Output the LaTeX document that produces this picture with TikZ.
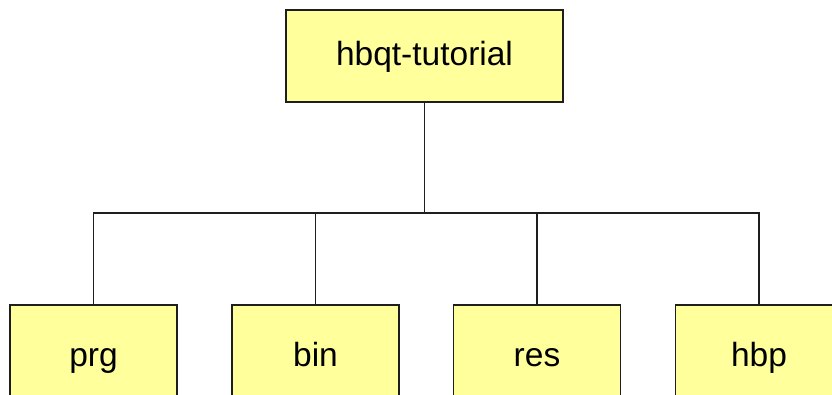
\documentclass[tikz,border=0pt]{standalone}
\usepackage{fontspec}
\setmainfont{Liberation Sans}
\definecolor{boxfill}{RGB}{255,255,155}
\definecolor{edge}{RGB}{30,30,30}
\begin{document}
\begin{tikzpicture}[x=1pt,y=-1pt,
  box/.style={draw=edge,line width=1.4pt,fill=boxfill,inner sep=0pt,
    text height=24pt,text depth=6pt,
    font=\fontsize{33.5}{38}\selectfont},
  topbox/.style={box,minimum width=277pt,minimum height=92pt},
  leafbox/.style={box,minimum width=167pt,minimum height=104pt},
  conn/.style={draw=edge,line width=1.5pt}]
\useasboundingbox (0,0) rectangle (832,394);
\clip (0,0) rectangle (832,394);
\fill[white] (0,0) rectangle (832,394);
\node[topbox] (root) at (424.5,56) {hbqt-tutorial};
\node[leafbox] (prg) at (93.5,357) {prg};
\node[leafbox] (bin) at (315.5,357) {bin};
\node[leafbox] (res) at (537,357) {res};
\node[leafbox] (hbp) at (759,357) {hbp};
\coordinate (bus) at (424.5,213);
\draw[conn] (root.south) -- (bus);
\draw[conn] (prg.north) |- (bus);
\draw[conn] (bin.north) |- (bus);
\draw[conn] (res.north) |- (bus);
\draw[conn] (hbp.north) |- (bus);
\end{tikzpicture}
\end{document}
